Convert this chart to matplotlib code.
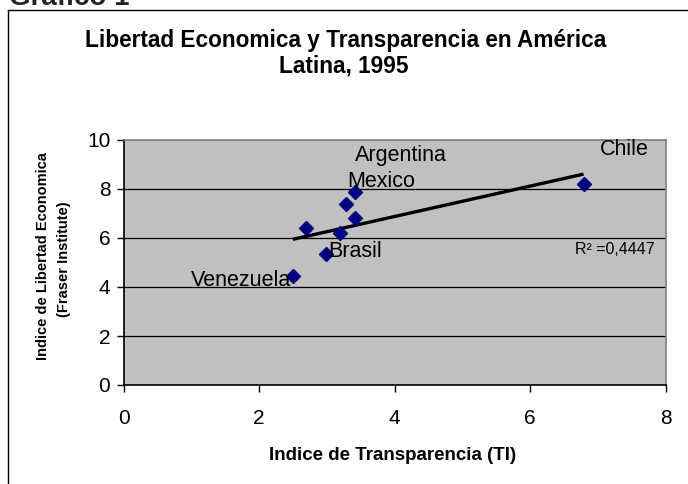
import numpy as np
import matplotlib
matplotlib.use("Agg")
import matplotlib.pyplot as plt
from matplotlib.lines import Line2D

plt.rcParams['font.family'] = ['Liberation Sans', 'DejaVu Sans']

# Data
ti = [2.50, 2.70, 2.99, 3.20, 3.29, 3.41, 3.41, 6.79]
libertad = [4.46, 6.42, 5.33, 6.22, 7.38, 6.83, 7.88, 8.19]
country_labels = ["Argentina", "Mexico", "Brasil", "Venezuela", "Chile"]
label_pos_x = [3.42, 3.30, 3.02, 0.99, 7.03]
label_pos_y = [9.15, 8.09, 5.24, 4.05, 9.39]
r2_text = "R² =0,4447"
xticks = [0, 2, 4, 6, 8]
yticks = [0, 2, 4, 6, 8, 10]

W, H = 688, 484
fig = plt.figure(figsize=(W / 100, H / 100), dpi=100)
fig.patch.set_facecolor("white")

ax = fig.add_axes([123.5 / W, 1 - 385 / H, (665.5 - 123.5) / W, (385 - 140) / H])
ax.set_facecolor("#C0C0C0")
ax.set_xlim(0, 8)
ax.set_ylim(0, 10)
ax.set_xticks(xticks)
ax.set_yticks(yticks)
for y in yticks[1:-1]:
    ax.axhline(y, color="black", lw=0.9, zorder=1)

ax.spines['left'].set_color("black")
ax.spines['bottom'].set_color("black")
ax.spines['top'].set_color("#808080")
ax.spines['right'].set_color("#808080")
for s in ax.spines.values():
    s.set_linewidth(1.2)

ax.tick_params(axis='both', direction='out', length=5, width=1, labelsize=15)
ax.tick_params(axis='x', pad=12)
ax.tick_params(axis='y', pad=4.5)

# Trend line (linear regression)
slope, intercept = np.polyfit(ti, libertad, 1)
xs = np.array([min(ti), max(ti)])
ax.plot(xs, slope * xs + intercept, color="black", lw=2.4, zorder=3, solid_capstyle='butt')

ax.plot(ti, libertad, linestyle='none', marker='D', markersize=7.5,
        color="#000080", zorder=4)

for lab, lx, ly in zip(country_labels, label_pos_x, label_pos_y):
    ax.text(lx, ly, lab, fontsize=15.5, ha='left', va='baseline', zorder=5)

ax.text(6.66, 5.33, r2_text, fontsize=11.5, ha='left', va='baseline', zorder=5)

ax.set_xlabel("Indice de Transparencia (TI)", fontsize=13.5, fontweight='bold')
ax.xaxis.set_label_coords(0.497, (385 - 460) / 245.0)
ax.xaxis.label.set_va('baseline')

# Y label two lines
fig.text(43 / W, 1 - 256 / H, "Indice de Libertad Economica", rotation=90,
         fontsize=10.5, fontweight='bold', ha='center', va='center')
fig.text(64 / W, 1 - 259 / H, "(Fraser Institute)", rotation=90,
         fontsize=10.5, fontweight='bold', ha='center', va='center')

# Title
fig.text(346 / W, 1 - 46.7 / H, "Libertad Economica y Transparencia en América",
         fontsize=16.3, fontweight='bold', ha='center', va='baseline')
fig.text(344 / W, 1 - 73 / H, "Latina, 1995",
         fontsize=16.3, fontweight='bold', ha='center', va='baseline')

# Outer frame (top and left visible)
fig.add_artist(Line2D([8 / W, 8 / W], [0, 1 - 10 / H], transform=fig.transFigure,
                      color="black", lw=1.0))
fig.add_artist(Line2D([8 / W, 1], [1 - 10 / H, 1 - 10 / H], transform=fig.transFigure,
                      color="black", lw=1.0))

# Heading above the frame (cut off at the top edge, as in the reference)
fig.text(9 / W, 1 - 5 / H, "Gráfico 1", fontsize=20, fontweight='bold',
         ha='left', va='baseline', color="#222222")

fig.savefig("out.png", dpi=100)
